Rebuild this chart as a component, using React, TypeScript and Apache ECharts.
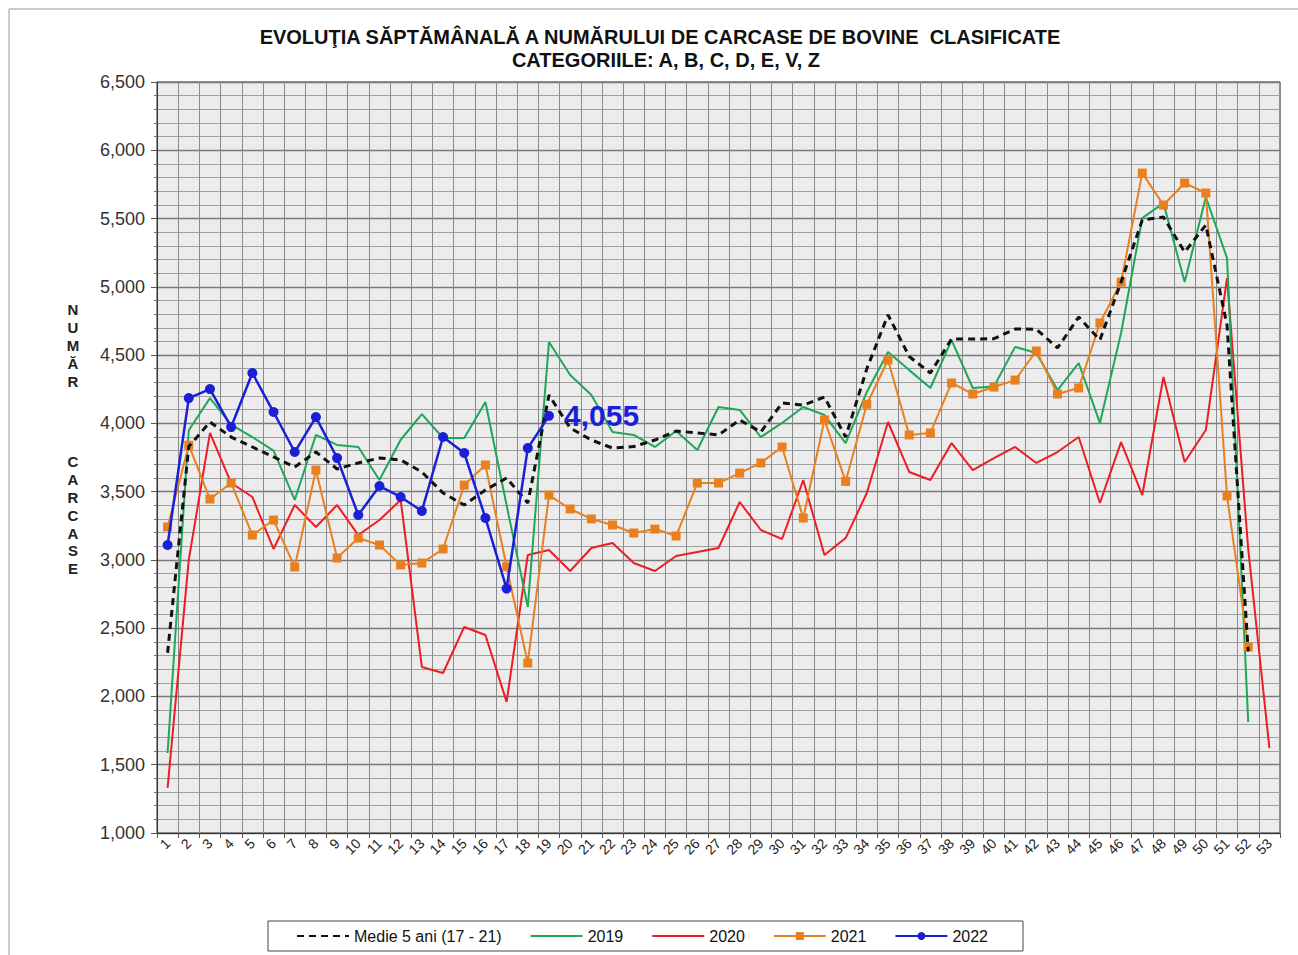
import React, { useEffect, useRef } from "react";
import * as echarts from "echarts";

const weeks: string[] = Array.from({ length: 53 }, (_, i) => String(i + 1));

const avg5: (number | null)[] = [
  2320, 3830, 4010, 3900, 3827, 3754, 3680, 3790, 3666, 3710, 3746, 3732, 3644, 3490, 3402, 3512, 3600, 3417, 4207, 3966,
  3878, 3819, 3830, 3878, 3944, 3930, 3915, 4025, 3937, 4149, 4134, 4193, 3900, 4400, 4795, 4490, 4369, 4618, 4618, 4620,
  4691, 4690, 4552, 4779, 4610, 5035, 5489, 5511, 5255, 5452, 4720, 2330,
];
const y2019: (number | null)[] = [
  1586, 3950, 4185, 3990, 3900, 3800, 3439, 3915, 3842, 3827, 3585, 3880, 4068, 3893, 3893, 4156, 3400, 2655, 4596, 4354,
  4207, 3937, 3915, 3827, 3944, 3805, 4120, 4098, 3900, 4003, 4120, 4061, 3856, 4230, 4522, 4390, 4259, 4610, 4259, 4270,
  4560, 4515, 4244, 4442, 4003, 4662, 5503, 5613, 5035, 5658, 5211, 1813,
];
const y2020: (number | null)[] = [
  1330, 3000, 3930, 3563, 3461, 3080, 3402, 3241, 3402, 3182, 3292, 3439, 2216, 2172, 2509, 2450, 1960, 3036, 3072, 2919,
  3087, 3124, 2977, 2919, 3029, 3058, 3087, 3424, 3219, 3153, 3585, 3036, 3160, 3490, 4010, 3644, 3585, 3856, 3658, 3746,
  3827, 3710, 3790, 3900, 3417, 3863, 3475, 4340, 3717, 3951, 5064, 3080, 1622,
];
const y2021: (number | null)[] = [
  3241, 3840, 3446, 3563, 3182, 3292, 2948, 3658, 3014, 3160, 3109, 2963, 2977, 3080, 3548, 3695, 2950, 2245, 3475, 3373,
  3300, 3256, 3197, 3226, 3175, 3563, 3563, 3636, 3710, 3827, 3307, 4025, 3575, 4140, 4464, 3915, 3930, 4296, 4215, 4266,
  4317, 4530, 4215, 4259, 4735, 5035, 5833, 5599, 5760, 5687, 3468, 2362,
];
const y2022: (number | null)[] = [
  3109, 4185, 4251, 3973, 4369, 4083, 3790, 4046, 3746, 3329, 3541, 3461, 3358, 3900, 3783, 3307, 2790, 3819, 4055,
];

const seriesNames = ["Medie 5 ani (17 - 21)", "2019", "2020", "2021", "2022"];
const yTicks = { min: 1000, max: 6500, interval: 500 };
const FONT = "Liberation Sans, Arial, sans-serif";

export default function App() {
  const ref = useRef<HTMLDivElement>(null);
  useEffect(() => {
    if (!ref.current) return;
    const chart = echarts.init(ref.current, null, { renderer: "svg" });
    const fmt = (v: number) => v.toLocaleString("en-US");
    const lastIdx = y2022.length - 1;
    const data2022 = y2022.map((v, i) =>
      i === lastIdx
        ? {
            value: v,
            label: {
              show: true,
              position: "right",
              offset: [5, 0],
              formatter: () => fmt(v as number),
              color: "#1b1fd6",
              fontSize: 30,
              fontWeight: "bold",
              fontFamily: FONT,
            },
          }
        : v
    );
    const noDot = { itemStyle: { opacity: 0 } };
    chart.setOption({
      animation: false,
      backgroundColor: "#ffffff",
      textStyle: { fontFamily: FONT },
      grid: {
        left: 157,
        top: 82,
        right: 18,
        bottom: 122,
        show: true,
        backgroundColor: "#ececec",
        borderColor: "#333",
        borderWidth: 1,
      },
      graphic: [
        {
          type: "line",
          shape: { x1: 9, y1: 9, x2: 1298, y2: 9 },
          style: { stroke: "#999", lineWidth: 1 },
        },
        {
          type: "line",
          shape: { x1: 9, y1: 9, x2: 9, y2: 955 },
          style: { stroke: "#999", lineWidth: 1 },
        },
        {
          type: "text",
          x: 660,
          y: 37,
          style: {
            text: "EVOLUŢIA SĂPTĂMÂNALĂ A NUMĂRULUI DE CARCASE DE BOVINE  CLASIFICATE",
            fontSize: 20,
            fontWeight: "bold",
            fontFamily: FONT,
            fill: "#111",
            textAlign: "center",
            textVerticalAlign: "middle",
          },
        },
        {
          type: "text",
          x: 666,
          y: 60,
          style: {
            text: "CATEGORIILE: A, B, C, D, E, V, Z",
            fontSize: 20,
            fontWeight: "bold",
            fontFamily: FONT,
            fill: "#111",
            textAlign: "center",
            textVerticalAlign: "middle",
          },
        },
        {
          type: "text",
          x: 73,
          y: 301,
          style: {
            text: "N\nU\nM\nĂ\nR",
            fontSize: 15,
            fontWeight: "bold",
            lineHeight: 17.8,
            fontFamily: FONT,
            fill: "#222",
            textAlign: "center",
          },
        },
        {
          type: "text",
          x: 73,
          y: 453,
          style: {
            text: "C\nA\nR\nC\nA\nS\nE",
            fontSize: 15,
            fontWeight: "bold",
            lineHeight: 17.8,
            fontFamily: FONT,
            fill: "#222",
            textAlign: "center",
          },
        },
      ],
      legend: {
        data: [
          { name: seriesNames[0], ...noDot },
          { name: seriesNames[1], ...noDot },
          { name: seriesNames[2], ...noDot },
          { name: seriesNames[3] },
          { name: seriesNames[4] },
        ],
        left: 268,
        top: 921,
        backgroundColor: "#ffffff",
        borderColor: "#444",
        borderWidth: 1,
        borderRadius: 0,
        padding: [7, 35, 7, 28],
        itemGap: 28,
        itemWidth: 52,
        itemHeight: 10,
        formatter: (name: string) => (name === seriesNames[0] ? `{w|${name}}` : name),
        textStyle: {
          fontSize: 16,
          color: "#111",
          fontFamily: FONT,
          rich: { w: { width: 178, fontSize: 16, color: "#111", fontFamily: FONT } },
        },
      },
      xAxis: {
        type: "category",
        data: weeks,
        boundaryGap: true,
        axisLine: { lineStyle: { color: "#333", width: 1 } },
        axisTick: { show: true, interval: 0, length: 5, lineStyle: { color: "#555" } },
        axisLabel: {
          interval: 0,
          rotate: 45,
          fontSize: 14,
          color: "#222",
          margin: 8,
        },
        splitLine: { show: true, interval: 0, lineStyle: { color: "#8a8a8a", width: 1 } },
      },
      yAxis: {
        type: "value",
        min: yTicks.min,
        max: yTicks.max,
        interval: yTicks.interval,
        axisLine: { show: true, lineStyle: { color: "#333" } },
        axisTick: { show: true, length: 6, lineStyle: { color: "#555" } },
        minorTick: { show: true, splitNumber: 5, length: 3, lineStyle: { color: "#777" } },
        axisLabel: { fontSize: 18, color: "#333", margin: 12, formatter: fmt },
        splitLine: { show: true, lineStyle: { color: "#7a7a7a", width: 1.3 } },
        minorSplitLine: { show: true, lineStyle: { color: "#a0a0a0", width: 1 } },
      },
      series: [
        {
          name: seriesNames[0],
          type: "line",
          data: avg5,
          symbol: "none",
          z: 5,
          lineStyle: { color: "#111", width: 3, type: [7, 5] },
          itemStyle: { color: "#111" },
        },
        {
          name: seriesNames[1],
          type: "line",
          data: y2019,
          symbol: "none",
          z: 3,
          lineStyle: { color: "#1fa65a", width: 2 },
          itemStyle: { color: "#1fa65a" },
        },
        {
          name: seriesNames[2],
          type: "line",
          data: y2020,
          symbol: "none",
          z: 2,
          lineStyle: { color: "#ee1c24", width: 2 },
          itemStyle: { color: "#ee1c24" },
        },
        {
          name: seriesNames[3],
          type: "line",
          data: y2021,
          symbol: "rect",
          symbolSize: 9,
          z: 4,
          lineStyle: { color: "#e8801f", width: 2 },
          itemStyle: { color: "#e8801f" },
        },
        {
          name: seriesNames[4],
          type: "line",
          data: data2022,
          symbol: "circle",
          symbolSize: 10,
          z: 6,
          lineStyle: { color: "#1b1fd6", width: 2.5 },
          itemStyle: { color: "#1b1fd6" },
        },
      ],
    });
    return () => chart.dispose();
  }, []);
  return (
    <div
      ref={ref}
      style={{ position: "fixed", left: 0, top: 0, width: 1298, height: 955, background: "#fff" }}
    />
  );
}
